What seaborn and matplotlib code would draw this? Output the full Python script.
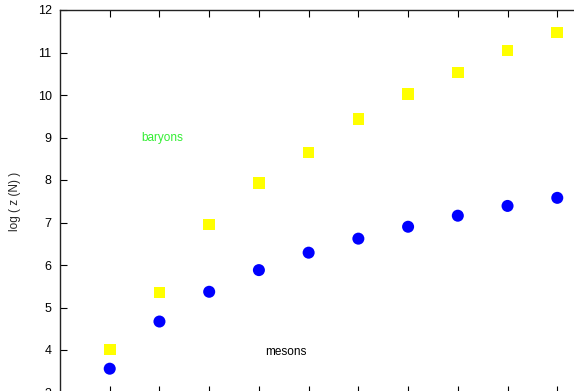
import pandas as pd
import matplotlib
matplotlib.use("Agg")
import matplotlib.pyplot as plt
import seaborn as sns

# values
n = [1, 2, 3, 4, 5, 6, 7, 8, 9, 10]
mesons = [3.56, 4.67, 5.37, 5.88, 6.29, 6.62, 6.90, 7.16, 7.39, 7.58]
baryons = [4.01, 5.35, 6.95, 7.93, 8.65, 9.43, 10.02, 10.53, 11.05, 11.47]
y_ticks = [3, 4, 5, 6, 7, 8, 9, 10, 11, 12]

df_m = pd.DataFrame({"N": n, "logz": mesons})
df_b = pd.DataFrame({"N": n, "logz": baryons})

sns.set_style("white")
plt.rcParams['font.family'] = ['Liberation Sans', 'DejaVu Sans']

fig = plt.figure(figsize=(5.74, 3.91), dpi=100)
# gnuplot-like frame, cropped at right and bottom
ax = fig.add_axes([60 / 574, -1.5 / 391, 547 / 574, 382.5 / 391])

sns.scatterplot(data=df_b, x="N", y="logz", marker="s", s=70, color="#ffff00",
                edgecolor="none", ax=ax, legend=False)
sns.scatterplot(data=df_m, x="N", y="logz", marker="o", s=75, color="#0000ff",
                edgecolor="none", ax=ax, legend=False)

ax.set_xlim(0, 11)
ax.set_ylim(3, 12)
ax.set_xticks(n)
ax.set_yticks(y_ticks)
ax.tick_params(direction="in", length=5, width=0.8, top=True, bottom=True,
               left=True, right=True, labelsize=9, colors="black", pad=6)
# x labels fall below the cropped frame
ax.tick_params(axis="x", labelbottom=False)
for s in ax.spines.values():
    s.set_color("#222222")
    s.set_linewidth(1.0)

ax.set_xlabel("")
ax.set_ylabel("log ( z (N) )", fontsize=8.5, labelpad=12)

ax.text(1.63, 9.0, "baryons", color="#33ee33", fontsize=8.5, va="center")
ax.text(4.12, 3.95, "mesons", color="black", fontsize=8.5, va="center")

fig.savefig("out.png", dpi=100)
